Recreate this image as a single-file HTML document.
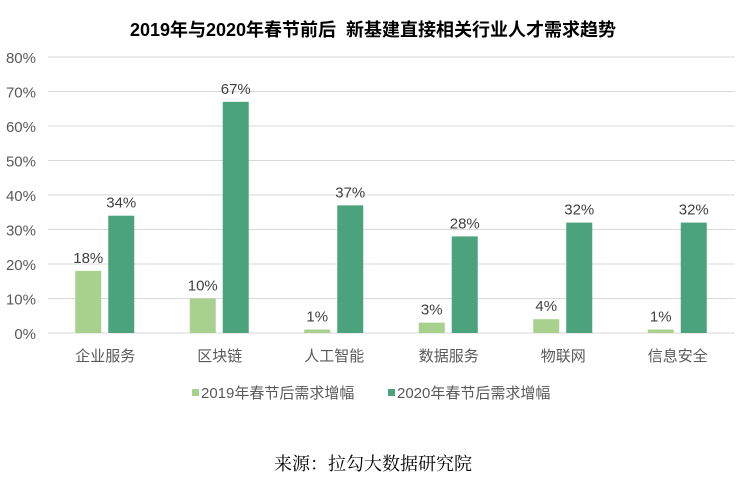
<!DOCTYPE html>
<html><head><meta charset="utf-8"><style>
body{margin:0;background:#fff;width:747px;height:480px;overflow:hidden;font-family:"Liberation Sans","Noto Sans CJK SC",sans-serif}
</style></head><body>
<svg id="c" width="747" height="480" xmlns="http://www.w3.org/2000/svg">
<text x="373" y="36" text-anchor="middle" font-size="18" font-weight="bold" fill="#000">2019年与2020年春节前后&#160;&#160;新基建直接相关行业人才需求趋势</text>
<g id="grid"></g><g id="bars"></g>
<g>
<rect x="192" y="389" width="7" height="7" fill="#a9d18e"/>
<text x="201" y="398" font-size="15" fill="#595959">2019年春节后需求增幅</text>
<rect x="388" y="389" width="7" height="7" fill="#4aa37d"/>
<text x="397" y="398" font-size="15" fill="#595959">2020年春节后需求增幅</text>
</g>
<text x="373" y="470" text-anchor="middle" font-size="18" fill="#000" font-family="'Liberation Serif','Noto Serif CJK SC',serif">来源：拉勾大数据研究院</text>
</svg>
<script>
const categories=["企业服务","区块链","人工智能","数据服务","物联网","信息安全"];
const values2019=[18,10,1,3,4,1];
const values2020=[34,67,37,28,32,32];
const yTicks=[0,10,20,30,40,50,60,70,80];
const NS="http://www.w3.org/2000/svg";
const x0=48,x1=735,y0=333,yTop=57,max=80;
const band=(x1-x0)/categories.length;
const y=v=>y0-(v/max)*(y0-yTop);
const bx=i=>x0+band*i+band/2;
function mk(t,a,p){const e=document.createElementNS(NS,t);for(const k in a)e.setAttribute(k,a[k]);p.appendChild(e);return e;}
const g=document.getElementById('grid'),b=document.getElementById('bars');
yTicks.forEach(t=>{
 const l=mk('line',{x1:x0,x2:x1,y1:y(t),y2:y(t),stroke:'#d9d9d9','stroke-width':1},g);
 
 
 const tx=mk('text',{x:36,y:y(t)+6,'text-anchor':'end','font-size':15,fill:'#595959'},g);
 tx.textContent=t+'%';
 
 
});
categories.forEach((c,i)=>{
 const cx=bx(i);
 [[values2019[i],'#a9d18e',-30],[values2020[i],'#4aa37d',3]].forEach(([v,col,off],k)=>{
  const r=mk('rect',{x:cx+off,y:y(v),width:26,height:y0-y(v),fill:col},b);
  
  
  const t=mk('text',{x:cx+off+13,y:y(v)-8,'text-anchor':'middle','font-size':15,fill:'#404040'},b);
  t.textContent=v+'%';
  
  
 });
 const t=mk('text',{x:cx,y:361,'text-anchor':'middle','font-size':15,fill:'#595959'},b);
 t.textContent=c;
 
 
});
</script>
</body></html>
